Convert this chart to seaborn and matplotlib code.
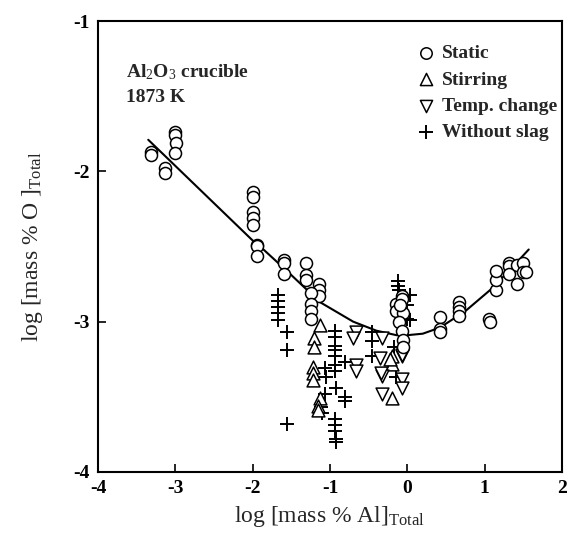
import numpy as np
import pandas as pd
import matplotlib
matplotlib.use("Agg")
import matplotlib.pyplot as plt
import seaborn as sns

# ---------------- data ----------------
static_x = [-3.31, -3.31, -3.13, -3.13, -3.0, -3.0, -2.99, -3.0,
            -2.0, -2.0, -2.0, -2.0, -2.0, -1.95, -1.95, -1.95,
            -1.60, -1.60, -1.60, -1.31, -1.31, -1.31, -1.14, -1.14, -1.14,
            -1.24, -1.24, -1.24, -1.24,
            -0.14, -0.07, -0.15, -0.05, -0.11, -0.07, -0.06, -0.06, -0.07, -0.10,
            0.42, 0.42, 0.42, 0.67, 0.67, 0.67, 0.67, 1.05, 1.07,
            1.15, 1.15, 1.15, 1.31, 1.31, 1.31, 1.42, 1.42, 1.50, 1.50, 1.54]
static_y = [-1.87, -1.89, -1.98, -2.01, -1.74, -1.76, -1.81, -1.88,
            -2.14, -2.17, -2.27, -2.31, -2.36, -2.49, -2.50, -2.56,
            -2.59, -2.61, -2.68, -2.61, -2.69, -2.72, -2.75, -2.79, -2.83,
            -2.81, -2.88, -2.93, -2.98,
            -2.88, -2.83, -2.93, -2.94, -3.00, -3.06, -3.12, -3.17, -2.85, -2.89,
            -2.97, -3.05, -3.07, -2.87, -2.90, -2.93, -2.96, -2.98, -3.00,
            -2.79, -2.72, -2.66, -2.61, -2.63, -2.68, -2.62, -2.75, -2.61, -2.67, -2.67]

stir_x = [-1.13, -1.21, -1.21, -1.22, -1.22, -1.22, -1.13, -1.15, -1.15,
          -0.20, -0.20, -0.20, -0.22]
stir_y = [-3.02, -3.11, -3.17, -3.30, -3.34, -3.39, -3.51, -3.56, -3.59,
          -3.23, -3.28, -3.51, -3.25]

temp_x = [-0.66, -0.70, -0.66, -0.66, -0.33, -0.35, -0.33, -0.33,
          -0.07, -0.07, -0.07, -0.07, -0.34]
temp_y = [-3.07, -3.11, -3.29, -3.33, -3.11, -3.24, -3.36, -3.48,
          -3.23, -3.38, -3.44, -3.22, -3.34]

plus_x = [-1.67, -1.67, -1.67, -1.67, -1.67, -1.56, -1.56, -1.56,
          -0.93, -0.93, -0.93, -0.93, -0.93, -0.93, -0.94, -1.06, -1.05, -1.06,
          -0.92, -0.80, -0.80, -0.80, -1.11, -1.10, -0.93, -0.93, -0.93, -0.92, -0.92,
          -0.46, -0.46, -0.46, -0.12, -0.12, -0.11, 0.0, 0.0, -0.14, 0.03, 0.03, -0.17]
plus_y = [-2.82, -2.86, -2.90, -2.94, -2.99, -3.07, -3.19, -3.68,
          -3.06, -3.10, -3.16, -3.19, -3.23, -3.29, -3.33, -3.31, -3.37, -3.48,
          -3.44, -3.27, -3.50, -3.53, -3.57, -3.61, -3.65, -3.69, -3.73, -3.78, -3.80,
          -3.07, -3.13, -3.23, -2.73, -2.76, -2.79, -2.89, -2.98, -3.37, -2.82, -2.99, -3.17]

curve_x = [-3.35, -2.0, -1.86, -1.5, -1.13, -0.7, -0.4, -0.14, 0.0, 0.2, 0.42, 0.75, 1.07, 1.3, 1.57]
curve_y = [-1.79, -2.46, -2.52, -2.69, -2.87, -3.00, -3.06, -3.09, -3.09, -3.08, -3.04, -2.93, -2.79, -2.67, -2.52]

x_ticks = [-4, -3, -2, -1, 0, 1, 2]
y_ticks = [-4, -3, -2, -1]

# ---------------- style ----------------
sns.set_theme(style="ticks")
plt.rcParams["font.family"] = ["Liberation Serif", "DejaVu Serif"]
plt.rcParams["axes.unicode_minus"] = False
plt.rcParams["mathtext.fontset"] = "custom"
plt.rcParams["mathtext.rm"] = "Liberation Serif"
plt.rcParams["mathtext.it"] = "Liberation Serif:italic"
plt.rcParams["mathtext.bf"] = "Liberation Serif:bold"

fig = plt.figure(figsize=(5.68, 5.43), dpi=100)
ax = fig.add_axes([0.1725, 0.1308, 0.8169, 0.8305])

df_s = pd.DataFrame({"x": static_x, "y": static_y})
df_t = pd.DataFrame({"x": stir_x, "y": stir_y})
df_d = pd.DataFrame({"x": temp_x, "y": temp_y})
df_p = pd.DataFrame({"x": plus_x, "y": plus_y})
df_c = pd.DataFrame({"x": curve_x, "y": curve_y})

sns.lineplot(data=df_c, x="x", y="y", ax=ax, color="black", lw=1.5, sort=False)
sns.scatterplot(data=df_p, x="x", y="y", ax=ax, marker="+", s=110, color="black",
                linewidth=1.4, label="Without slag", zorder=3)
sns.scatterplot(data=df_t, x="x", y="y", ax=ax, marker="^", s=85, facecolor="white",
                edgecolor="black", linewidth=1.1, label="Stirring", zorder=4)
sns.scatterplot(data=df_d, x="x", y="y", ax=ax, marker="v", s=85, facecolor="white",
                edgecolor="black", linewidth=1.1, label="Temp. change", zorder=4)
sns.scatterplot(data=df_s, x="x", y="y", ax=ax, marker="o", s=75, facecolor="white",
                edgecolor="black", linewidth=1.1, label="Static", zorder=5)

ax.set_xlim(-4, 2)
ax.set_ylim(-4, -1)
ax.set_xticks(x_ticks)
ax.set_yticks(y_ticks)
ax.set_xticklabels([str(t) for t in x_ticks])
ax.set_yticklabels([str(t) for t in y_ticks])
ax.tick_params(direction="in", length=6, width=1.2, labelsize=14, pad=6, colors="black")
for lab in ax.get_xticklabels() + ax.get_yticklabels():
    lab.set_fontweight("bold")
for sp in ax.spines.values():
    sp.set_linewidth(1.5)
    sp.set_color("black")

ax.set_xlabel(r"log [mass % Al]$_{\mathrm{Total}}$", fontsize=17, labelpad=5)
ax.set_ylabel(r"log [mass % O ]$_{\mathrm{Total}}$", fontsize=17, labelpad=20)

ax.text(0.06, 0.887, r"Al$_2$O$_3$ crucible", transform=ax.transAxes, fontsize=14,
        fontweight="bold", va="center")
ax.text(0.06, 0.831, "1873 K", transform=ax.transAxes, fontsize=14,
        fontweight="bold", va="center")

h, l = ax.get_legend_handles_labels()
order = ["Static", "Stirring", "Temp. change", "Without slag"]
hh = [h[l.index(o)] for o in order]
leg = ax.legend(hh, order, loc="upper left", bbox_to_anchor=(0.67, 0.965), frameon=False,
                fontsize=14, handletextpad=0.3, labelspacing=0.45, markerscale=0.95,
                handlelength=1.0, borderaxespad=0)
for t in leg.get_texts():
    t.set_fontweight("bold")

fig.savefig("out.png", dpi=100)
